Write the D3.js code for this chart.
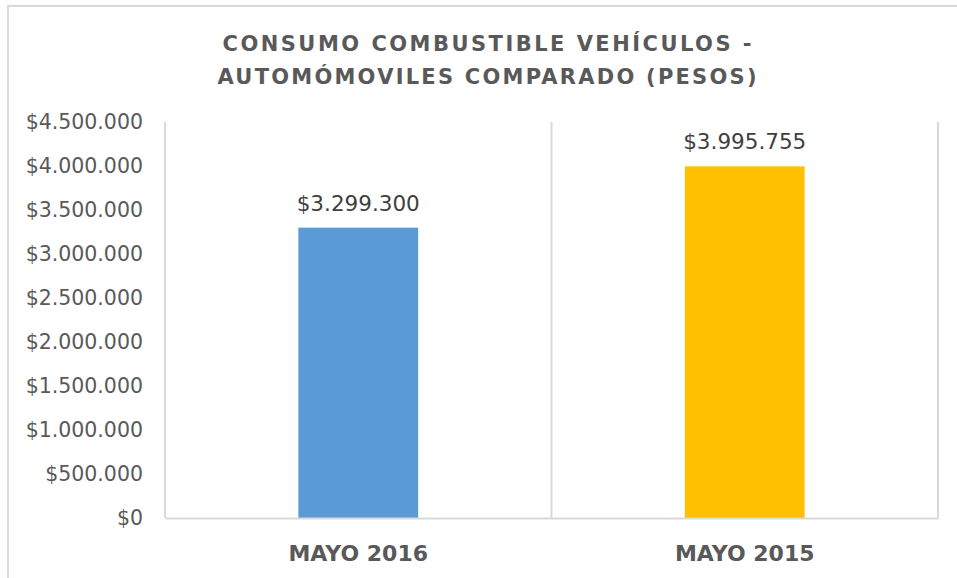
<!DOCTYPE html>
<html>
<head>
<meta charset="utf-8">
<script src="https://cdn.jsdelivr.net/npm/d3@7"></script>
<style>
  body { margin: 0; background: #fff; }
  svg { display: block; }
</style>
</head>
<body>
<svg id="chart"></svg>
<script>
// Chart data
const categories = ["MAYO 2016", "MAYO 2015"];
const values = [3299300, 3995755];
const barColors = ["#5B9BD5", "#FFC000"];
const yTicks = [0, 500000, 1000000, 1500000, 2000000, 2500000, 3000000, 3500000, 4000000, 4500000];
const titleLines = ["CONSUMO COMBUSTIBLE VEHÍCULOS -", "AUTOMÓMOVILES COMPARADO (PESOS)"];
const titleWidths = [529, 539];

const dims = { width: 957, height: 578 };
const plot = { left: 165, right: 938, top: 122, bottom: 518 };

const svg = d3.select("#chart").attr("width", dims.width).attr("height", dims.height);

// number format like "$3.299.300"
const money = (v) => "$" + d3.format(",")(v).replace(/,/g, ".");

const xScale = d3.scaleBand()
  .domain(categories)
  .range([plot.left, plot.right])
  .paddingInner(0.69)
  .paddingOuter(0.345);

const yScale = d3.scaleLinear()
  .domain([0, 4500000])
  .range([plot.bottom, plot.top]);

// outer chart border
svg.append("rect")
  .attr("x", 8).attr("y", 6)
  .attr("width", dims.width).attr("height", dims.height)
  .attr("fill", "none")
  .attr("stroke", "#d9d9d9")
  .attr("stroke-width", 2);

// title
svg.append("g")
  .selectAll("text")
  .data(titleLines)
  .enter()
  .append("text")
  .attr("x", 487)
  .attr("y", (d, i) => 51 + i * 33)
  .attr("text-anchor", "middle")
  .attr("font-family", "DejaVu Sans")
  .attr("font-weight", "bold")
  .attr("font-size", 21)
  .attr("textLength", (d, i) => titleWidths[i])
  .attr("lengthAdjust", "spacing")
  .attr("fill", "#595959")
  .text((d) => d);

// plot frame: left, right and category separator lines
const sepX = [plot.left, (plot.left + plot.right) / 2, plot.right];
svg.append("g")
  .selectAll("line")
  .data(sepX)
  .enter()
  .append("line")
  .attr("x1", (d) => d).attr("x2", (d) => d)
  .attr("y1", plot.top).attr("y2", plot.bottom)
  .attr("stroke", "#d9d9d9")
  .attr("stroke-width", 2);

// y axis
const yAxis = d3.axisLeft(yScale)
  .tickValues(yTicks)
  .tickFormat(money)
  .tickSize(0)
  .tickPadding(22);

const yG = svg.append("g")
  .attr("transform", `translate(${plot.left},0)`)
  .call(yAxis);
yG.select(".domain").remove();
yG.selectAll("text")
  .attr("font-family", "DejaVu Sans")
  .attr("font-size", 20.5)
  .attr("fill", "#595959");

// bars
svg.append("g")
  .selectAll("rect")
  .data(values)
  .enter()
  .append("rect")
  .attr("x", (d, i) => xScale(categories[i]))
  .attr("y", (d) => yScale(d))
  .attr("width", xScale.bandwidth())
  .attr("height", (d) => plot.bottom - yScale(d))
  .attr("fill", (d, i) => barColors[i]);

// data labels
svg.append("g")
  .selectAll("text")
  .data(values)
  .enter()
  .append("text")
  .attr("x", (d, i) => xScale(categories[i]) + xScale.bandwidth() / 2)
  .attr("y", (d) => yScale(d) - 17)
  .attr("text-anchor", "middle")
  .attr("font-family", "DejaVu Sans")
  .attr("font-size", 21.5)
  .attr("fill", "#404040")
  .text(money);

// x axis
const xAxis = d3.axisBottom(xScale).tickSize(0).tickPadding(27);
const xG = svg.append("g")
  .attr("transform", `translate(0,${plot.bottom})`)
  .call(xAxis);
xG.select(".domain")
  .attr("stroke", "#d9d9d9")
  .attr("stroke-width", 2);
xG.selectAll("text")
  .attr("font-family", "DejaVu Sans")
  .attr("font-weight", "bold")
  .attr("font-size", 22)
  .attr("fill", "#595959");
</script>
</body>
</html>
